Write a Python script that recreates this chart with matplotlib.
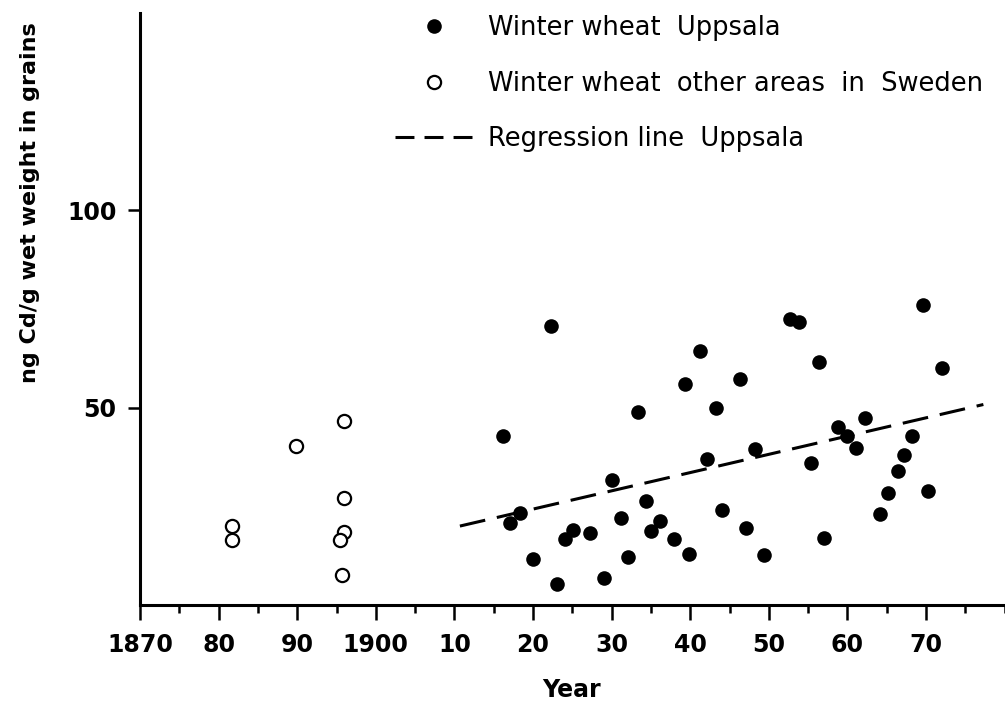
import matplotlib
matplotlib.use("Agg")
import matplotlib.pyplot as plt
from matplotlib.lines import Line2D
from matplotlib.ticker import FixedLocator, MultipleLocator

# Winter wheat, Uppsala (filled circles)
uppsala_years = [1916.2, 1922.3, 1918.3, 1917.1, 1920.0, 1923.1, 1925.1, 1924.1,
                 1927.3, 1929.0, 1930.1, 1931.2, 1932.1, 1933.3, 1934.4, 1936.1,
                 1935.0, 1938.0, 1939.9, 1939.3, 1941.3, 1942.1, 1943.3, 1944.1,
                 1946.3, 1947.1, 1948.3, 1949.4, 1952.7, 1953.8, 1956.4, 1955.4,
                 1957.0, 1958.8, 1959.9, 1961.1, 1962.2, 1964.2, 1965.2, 1966.5,
                 1967.2, 1968.2, 1970.2, 1972.0, 1969.6]
uppsala_cd = [42.9, 70.6, 23.4, 20.9, 11.6, 5.3, 19.0, 16.7,
              18.2, 6.9, 31.7, 22.0, 12.2, 48.8, 26.4, 21.3,
              18.8, 16.7, 12.9, 56.0, 64.3, 37.0, 49.9, 24.0,
              57.3, 19.4, 39.5, 12.7, 72.5, 71.7, 61.5, 36.0,
              16.9, 45.2, 42.9, 39.7, 47.5, 23.0, 28.3, 34.0,
              38.1, 42.7, 28.9, 60.1, 75.9]

# Winter wheat, other areas in Sweden (open circles)
other_years = [1881.7, 1881.7, 1889.9, 1896.0, 1895.9, 1895.9, 1895.4, 1895.7]
other_cd = [20.0, 16.4, 40.2, 46.5, 27.1, 18.6, 16.4, 7.6]

# Regression line, Uppsala
reg_years = [1910.7, 1977.3]
reg_cd = [20.0, 50.8]

tick_years = [1870, 1880, 1890, 1900, 1910, 1920, 1930, 1940, 1950, 1960, 1970]
tick_labels = ["1870", "80", "90", "1900", "10", "20", "30", "40", "50", "60", "70"]
y_ticks = [50, 100]

W, H = 1005, 702
fig = plt.figure(figsize=(W / 100, H / 100), dpi=100)
ax = fig.add_axes([140 / W, (H - 605) / H, (1004.6 - 140) / W, (605 - 13) / H])

ax.plot(reg_years, reg_cd, color="black", lw=2.2, linestyle=(0, (8.5, 3.9)))
ax.plot(uppsala_years, uppsala_cd, "o", color="black", ms=10.5, mew=0)
ax.plot(other_years, other_cd, "o", mfc="white", mec="black", ms=9.5, mew=1.6)

ax.set_xlim(1870, 1980)
ax.set_ylim(0, 150)

for s in ("top", "right"):
    ax.spines[s].set_visible(False)
for s in ("left", "bottom"):
    ax.spines[s].set_linewidth(2.2)

ax.xaxis.set_major_locator(FixedLocator(tick_years))
ax.set_xticklabels(tick_labels)
ax.xaxis.set_minor_locator(MultipleLocator(5))
ax.set_yticks(y_ticks)
ax.tick_params(axis="x", which="major", length=10.5, width=1.8, pad=10,
               labelsize=17)
ax.tick_params(axis="x", which="minor", length=6, width=1.8)
ax.tick_params(axis="y", which="major", length=9, width=1.8, pad=8,
               labelsize=17)
for lbl in ax.get_xticklabels() + ax.get_yticklabels():
    lbl.set_fontweight("bold")

fig.text(30 / W, 1 - 203 / H, "ng Cd/g wet weight in grains", rotation=90,
         ha="center", va="center", fontsize=16, fontweight="bold")
fig.text(571 / W, 1 - 690 / H, "Year", ha="center", va="center",
         fontsize=17, fontweight="bold")

handles = [
    Line2D([], [], marker="o", color="black", ls="none", ms=10.5, mew=0),
    Line2D([], [], marker="o", mfc="white", mec="black", ls="none", ms=9.5, mew=1.6),
    Line2D([], [], color="black", lw=2.2, linestyle=(0, (6.2, 3.3))),
]
labels = ["Winter wheat  Uppsala",
          "Winter wheat  other areas  in  Sweden",
          "Regression line  Uppsala"]
ax.legend(handles, labels, loc="upper left", bbox_to_anchor=(395 / W, 1 - 15 / H),
          bbox_transform=fig.transFigure, frameon=False, fontsize=18.5,
          handlelength=3.0, handletextpad=0.6, labelspacing=1.15,
          borderpad=0, borderaxespad=0)

fig.savefig("out.png", dpi=100)
